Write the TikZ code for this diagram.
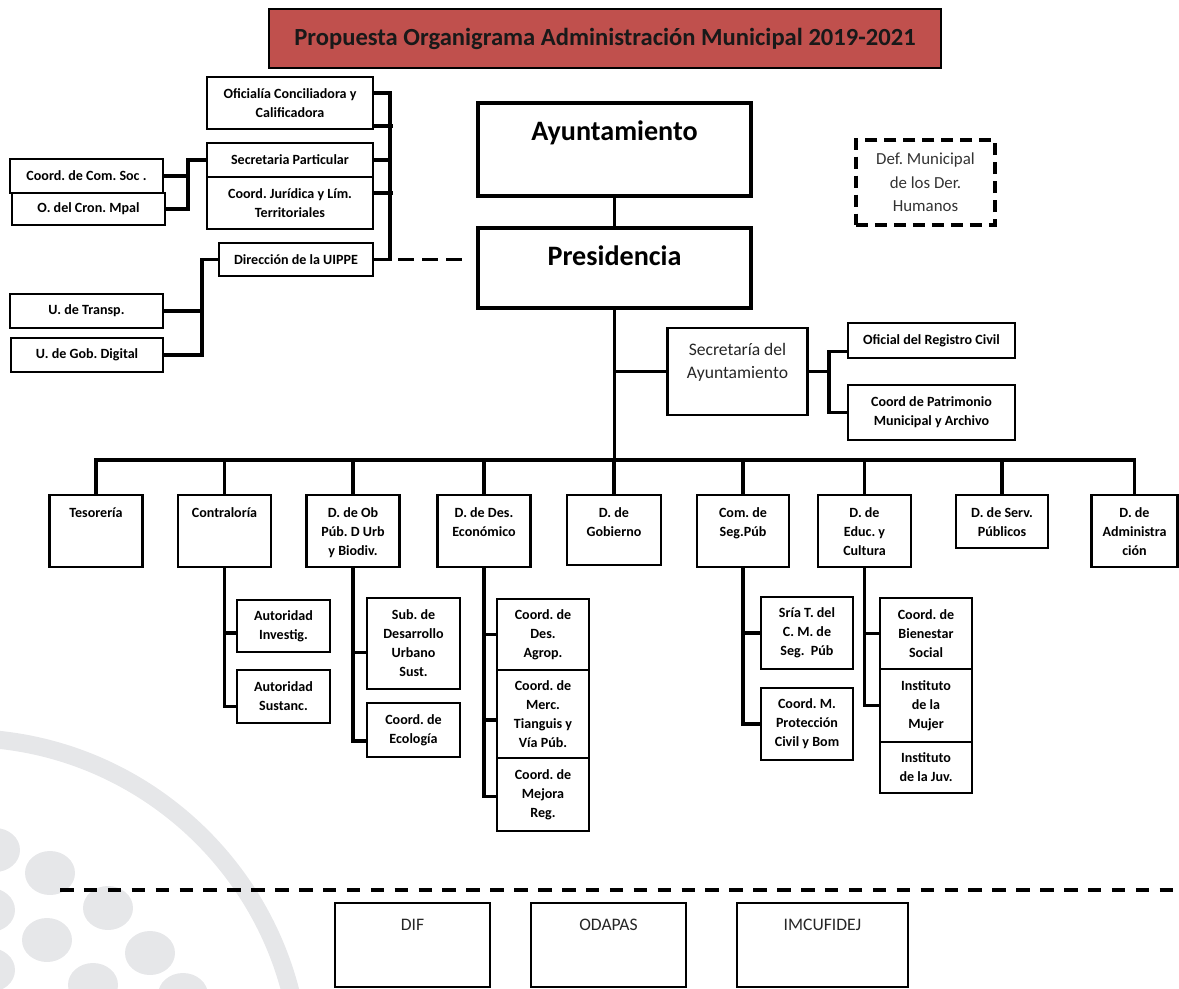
\documentclass[tikz,border=0pt]{standalone}
\usepackage{fontspec}
\setmainfont{Carlito}
\usetikzlibrary{calc}
\frenchspacing

\definecolor{titlered}{RGB}{192,80,77}
\definecolor{wmgray}{RGB}{230,231,233}

% one pixel of the layout grid
\newlength{\pxu}\setlength{\pxu}{0.025cm}
% text box with its lines starting at the top
\newcommand{\tbx}[4]{\parbox[c][#2\pxu][t]{#1\pxu}{\centering\vspace*{#3\pxu}\strut #4\par}}

\begin{document}
\begin{tikzpicture}[
    x=0.025cm, y=-0.025cm,
    sz/.style 2 args={minimum width=#1\pxu, minimum height=#2\pxu},
    box/.style={
        draw,
        line width=2pt,
        align=center,
        inner sep=0pt,
        font=\bfseries\fontsize{10}{13.5}\selectfont
    },
    lbox/.style={box, line width=1.5pt},
    thinbox/.style={box, line width=1pt},
    rowbox/.style={box},
    botbox/.style={box, line width=1.2pt, font=\fontsize{12.5}{15}\selectfont, text=black!85},
    titlebox/.style={draw, line width=1.2pt, fill=titlered, text=black!90,
        font=\bfseries\fontsize{17.5}{20}\selectfont},
    link/.style={line width=2.6pt, line cap=rect},
    dashlink/.style={line width=2.6pt, dash pattern=on 11pt off 6pt, dash phase=11pt},
    sepline/.style={line width=2.8pt, dash pattern=on 9.6pt off 7.4pt}
]
\useasboundingbox (0,0) rectangle (1179,988);

%==========================
% background mark
%==========================
\begin{scope}
\clip (0,0) rectangle (1179,988);
\draw[wmgray, line width=18\pxu] (-37,1076) circle [radius=8.45cm];
\foreach \cx/\cy in {-5/850, 50/873, -10/910, 108/908, 47/940, 150/953, -10/970, 93/985, 183/995}
    \fill[wmgray] (\cx,\cy) ellipse [x radius=0.625cm, y radius=0.55cm];
\end{scope}

%==========================
% title
%==========================
\node[titlebox, sz={672}{59}] (title) at (605,38.5)
{Propuesta Organigrama Administración Municipal 2019-2021};

%==========================
% staff units (left)
%==========================
\node[lbox, sz={166}{52}] (ofic)   at (290,103)   {Oficialía Conciliadora y\\Calificadora};
\node[lbox, sz={166}{34}] (secp)   at (290,160)   {Secretaria Particular};
\node[lbox, sz={166}{52}] (cjur)   at (290,203)   {Coord. Jurídica y Lím.\\Territoriales};
\node[lbox, sz={154}{33}] (uippe)  at (296,259.5) {Dirección de la UIPPE};
\node[lbox, sz={153}{34}] (comsoc) at (86.5,176)  {Coord. de Com. Soc .};
\node[lbox, sz={153}{32}] (cron)   at (88.5,209)  {O. del Cron. Mpal};
\node[lbox, sz={153}{34}] (transp) at (86.5,311)  {U. de Transp.};
\node[lbox, sz={152}{34}] (gobdig) at (87,355)    {U. de Gob. Digital};

\coordinate (lbt) at (390,93);
\draw[link] ([yshift=10\pxu]ofic.east) -- (lbt) -- (lbt |- uippe.east) -- (uippe.east);
\draw[link] ([yshift=4\pxu]ofic.south east) -- +(17,0);
\draw[link] (secp.east) -- (secp.east -| lbt);
\draw[link] ([yshift=10\pxu]cjur.east) -- +(17,0);

\coordinate (csj) at (188,160);
\draw[link] (secp.west) -- (csj) |- (comsoc.east);
\draw[link] (csj) |- (cron.east);

\coordinate (upj) at (202,259.5);
\draw[link] (uippe.west) -- (upj) |- (gobdig.east);
\draw[link] (upj) |- (transp.east);

%==========================
% head
%==========================
\node[box, line width=2.4pt, font=\bfseries\fontsize{20}{24}\selectfont] (ayun) at (614.5,149.5)
{\tbx{273}{93}{14}{Ayuntamiento}};
\node[box, line width=2.4pt, font=\bfseries\fontsize{20}{24}\selectfont] (pres) at (614.5,268)
{\tbx{273}{80}{14}{Presidencia}};
\draw[link] (ayun) -- (pres);
\draw[dashlink] (lbt |- uippe.east) -- ($(pres.west |- uippe.east)+(-10,0)$);

\node[draw, line width=2.2pt, dash pattern=on 8.5pt off 5pt, sz={139}{85}, align=center,
    text=black!80, font=\fontsize{12}{16.6}\selectfont] (defm) at (925.5,182.5)
{Def. Municipal\\de los Der.\\Humanos};

\node[box, font=\fontsize{12.5}{16.3}\selectfont, text=black!85] (seca) at (737.5,371.5)
{\tbx{140}{87}{11.6}{Secretaría del\\Ayuntamiento}};
\node[box, sz={167}{35}] (orc)  at (931.5,340.5) {Oficial del Registro Civil};
\node[box, sz={167}{55}] (cpat) at (931.5,412.5) {Coord de Patrimonio\\Municipal y Archivo};

\coordinate (bus) at (614.5,460);
\draw[link] (pres.south) -- (pres.south |- bus);
\draw[link] (seca.west -| pres.south) -- (seca.west);
\coordinate (saj) at (829,371.5);
\draw[link] (seca.east) -- (saj);
\draw[link] ([yshift=-11\pxu]orc.west) -| (saj) |- (cpat.west);

%==========================
% directorates
%==========================
\node[rowbox] (tes)    at (96,531)     {\tbx{93}{72}{9}{Tesorería}};
\node[rowbox] (contr)  at (224.5,531)  {\tbx{93}{72}{9}{Contraloría}};
\node[rowbox] (obp)    at (353,531)    {\tbx{93}{72}{9}{D. de Ob\\Púb. D Urb\\y Biodiv.}};
\node[rowbox] (desec)  at (484,531)    {\tbx{93}{72}{9}{D. de Des.\\Económico}};
\node[rowbox] (gob)    at (614,530)    {\tbx{94}{70}{9}{D. de\\Gobierno}};
\node[rowbox] (comseg) at (743,531)    {\tbx{92}{72}{9}{Com. de\\Seg.Púb}};
\node[rowbox] (educ)   at (864.5,531)  {\tbx{93}{72}{9}{D. de\\Educ. y\\Cultura}};
\node[rowbox] (serv)   at (1002,521.5) {\tbx{92}{53}{9}{D. de Serv.\\Públicos}};
\node[rowbox] (admin)  at (1134.5,531) {\tbx{86}{72}{9}{D. de\\Administra\\ción}};

\draw[link] (tes.north |- bus) -- (admin.north |- bus);
\foreach \n in {tes,contr,obp,desec,gob,comseg,educ,serv,admin}
    \draw[link] (\n.north) -- (\n.north |- bus);

% sub units
\node[box, sz={93}{52}] (ai)   at (283.5,626)   {Autoridad\\Investig.};
\node[box, sz={93}{53}] (asus) at (283.5,696.5) {Autoridad\\Sustanc.};
\draw[link] ([yshift=-7\pxu]ai.west) -| (contr.south);
\draw[link] ([yshift=-10\pxu]asus.west) -| (contr.south);

\node[box, sz={93}{91}] (subd) at (413.5,643.5) {Sub. de\\Desarrollo\\Urbano\\Sust.};
\node[box, sz={93}{54}] (eco)  at (413.5,730)   {Coord. de\\Ecología};
\draw[link] ([yshift=-9\pxu]subd.west) -| (obp.south);
\draw[link] ([yshift=-11\pxu]eco.west) -| (obp.south);

\node[box, sz={92}{71}] (agro) at (543,634.5) {Coord. de\\Des.\\Agrop.};
\node[box, sz={92}{88}] (merc) at (543,714)   {Coord. de\\Merc.\\Tianguis y\\Vía Púb.};
\node[box, sz={92}{73}] (mej)  at (543,794.5) {Coord. de\\Mejora\\Reg.};
\draw[link] (agro.west) -| (desec.south);
\draw[link] ([yshift=-6\pxu]merc.west) -| (desec.south);
\draw[link] ([yshift=-2\pxu]mej.west) -| (desec.south);

\node[box, sz={92}{72}] (sria) at (807,633) {Sría T. del\\C. M. de\\Seg.\ \ Púb};
\node[box, sz={92}{72}] (pciv) at (807,724) {Coord. M.\\Protección\\Civil y Bom};
\draw[link] (sria.west) -| (comseg.south);
\draw[link] (pciv.west) -| (comseg.south);

\node[thinbox, sz={92}{71}] (bien)  at (926,633.5) {Coord. de\\Bienestar\\Social};
\node[thinbox, sz={92}{73}] (mujer) at (926,705.5) {Instituto\\de la\\Mujer};
\node[thinbox, sz={92}{51}] (juv)   at (926,767.5) {Instituto\\de la Juv.};
\draw[link] (bien.west) -| (educ.south);
\draw[link] (mujer.west) -| (educ.south);

%==========================
% decentralised bodies
%==========================
\coordinate (sepl) at (60,890);
\coordinate (sepr) at (1179,890);
\draw[sepline] (sepl) -- (sepr);

\node[botbox] (dif)    at (412.5,945) {\tbx{155}{84}{12.9}{DIF}};
\node[botbox] (odapas) at (608.5,945) {\tbx{155}{84}{12.9}{ODAPAS}};
\node[botbox] (imcu)   at (822.5,945) {\tbx{171}{84}{12.9}{IMCUFIDEJ}};

\end{tikzpicture}
\end{document}
